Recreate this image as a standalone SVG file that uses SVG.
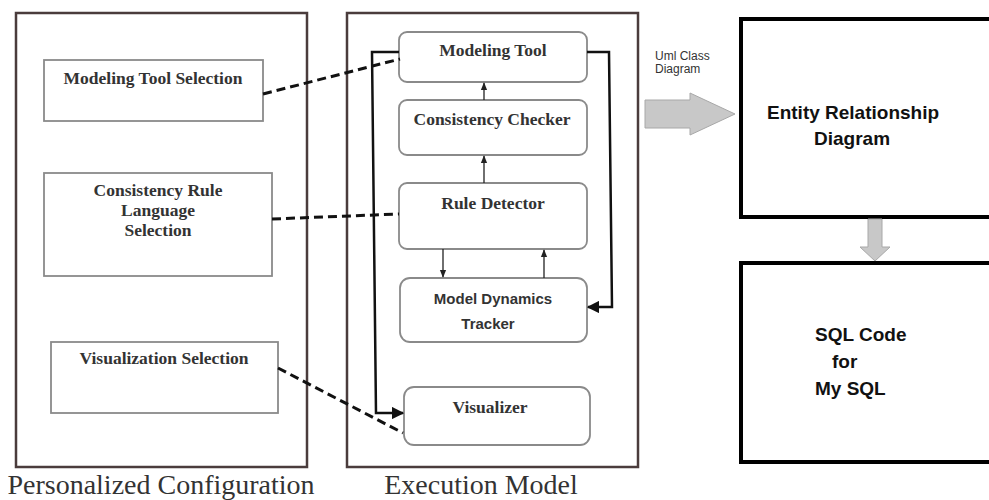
<svg xmlns="http://www.w3.org/2000/svg" width="989" height="500" viewBox="0 0 989 500">
<style>
.panel{fill:#fff;stroke:#4a3c3c;stroke-width:2.5}
.box{fill:#fff;stroke:#8a8a8a;stroke-width:1.8}
.rbox{fill:#fff;stroke:#8a8a8a;stroke-width:1.8}
.big{fill:#fff;stroke:#000;stroke-width:4}
.st{font-family:"Liberation Serif",serif;font-weight:bold;font-size:17.5px;fill:#333;text-anchor:middle}
.ss{font-family:"Liberation Sans",sans-serif;font-weight:bold;font-size:15px;fill:#333;text-anchor:middle}
.cap{font-family:"Liberation Serif",serif;font-size:28px;fill:#333;text-anchor:middle}
.big-t{font-family:"Liberation Sans",sans-serif;font-weight:bold;font-size:19px;fill:#111}
.small{font-family:"Liberation Sans",sans-serif;font-size:12px;fill:#333}
.dash{fill:none;stroke:#111;stroke-width:3;stroke-dasharray:9,5}
.thick{fill:none;stroke:#111;stroke-width:2.5}
.thin{fill:none;stroke:#222;stroke-width:1.3}
.gray{fill:#c8c8c8;stroke:#a8a8a8;stroke-width:1}
</style>
<defs>
<marker id="ah" viewBox="0 0 10 10" refX="9" refY="5" markerWidth="5" markerHeight="5" orient="auto"><path d="M0,0 L10,5 L0,10 z" fill="#111"/></marker>
<marker id="ahs" viewBox="0 0 10 10" refX="9" refY="5" markerWidth="6" markerHeight="6" orient="auto"><path d="M0,1 L10,5 L0,9 z" fill="#222"/></marker>
</defs>
<rect width="989" height="500" fill="#fff"/>

<g id="personalized-configuration">
<rect class="panel" x="16" y="13" width="291" height="454"/>
<text class="cap" x="161" y="494">Personalized Configuration</text>
</g>
<g id="execution-model">
<rect class="panel" x="347" y="13" width="291" height="454"/>
<text class="cap" x="481" y="494">Execution Model</text>
</g>

<g id="modeling-tool-selection">
<rect class="box" x="44" y="60" width="219" height="61"/>
<text class="st" x="153" y="84">Modeling Tool Selection</text>
</g>
<g id="consistency-rule-language-selection">
<rect class="box" x="44" y="173" width="228" height="103"/>
<text class="st" x="158" y="196">Consistency Rule</text>
<text class="st" x="158" y="216">Language</text>
<text class="st" x="158" y="236">Selection</text>
</g>
<g id="visualization-selection">
<rect class="box" x="51" y="342" width="227" height="71"/>
<text class="st" x="164" y="364">Visualization Selection</text>
</g>

<g id="modeling-tool">
<rect class="rbox" x="399" y="32" width="188" height="50" rx="8"/>
<text class="st" x="493" y="56">Modeling Tool</text>
</g>
<g id="consistency-checker">
<rect class="rbox" x="399" y="100" width="188" height="55" rx="8"/>
<text class="st" x="492" y="125">Consistency Checker</text>
</g>
<g id="rule-detector">
<rect class="rbox" x="399" y="183" width="188" height="66" rx="8"/>
<text class="st" x="493" y="209">Rule Detector</text>
</g>
<g id="model-dynamics-tracker">
<rect class="rbox" x="400" y="278" width="187" height="64" rx="10"/>
<text class="ss" x="493" y="304">Model Dynamics</text>
<text class="ss" x="488" y="329">Tracker</text>
</g>
<g id="visualizer">
<rect class="rbox" x="404" y="387" width="186" height="58" rx="10"/>
<text class="st" x="490" y="413">Visualizer</text>
</g>

<g id="entity-relationship-diagram">
<rect class="big" x="741" y="19" width="252" height="198"/>
<text class="big-t" x="767" y="119">Entity Relationship</text>
<text class="big-t" x="814" y="145">Diagram</text>
</g>
<g id="sql-code">
<rect class="big" x="741" y="263" width="252" height="199"/>
<text class="big-t" x="815" y="341">SQL Code</text>
<text class="big-t" x="832" y="368">for</text>
<text class="big-t" x="815" y="395">My SQL</text>
</g>

<g id="connectors">
<line class="dash" x1="263" y1="94" x2="400" y2="59"/>
<line class="dash" x1="272" y1="219" x2="399" y2="214"/>
<line class="dash" x1="278" y1="368" x2="403" y2="433"/>
<line class="thin" x1="484" y1="100" x2="484" y2="83" marker-end="url(#ahs)"/>
<line class="thin" x1="484" y1="183" x2="484" y2="156" marker-end="url(#ahs)"/>
<line class="thin" x1="443" y1="249" x2="443" y2="277" marker-end="url(#ahs)"/>
<line class="thin" x1="544" y1="278" x2="544" y2="250" marker-end="url(#ahs)"/>
<polyline class="thick" points="587,52 609,52 612,307 588,307" marker-end="url(#ah)"/>
<polyline class="thick" points="399,52 372,52 376,413 403,413" marker-end="url(#ah)"/>
<text class="small" x="655" y="60">Uml Class</text>
<text class="small" x="655" y="73">Diagram</text>
<path class="gray" d="M645,100 L690,100 L690,93 L735,114 L690,135 L690,128 L645,128 Z"/>
<path class="gray" d="M868,219 L882,219 L882,247 L890,247 L875,261 L860,247 L868,247 Z"/>
</g>
</svg>
